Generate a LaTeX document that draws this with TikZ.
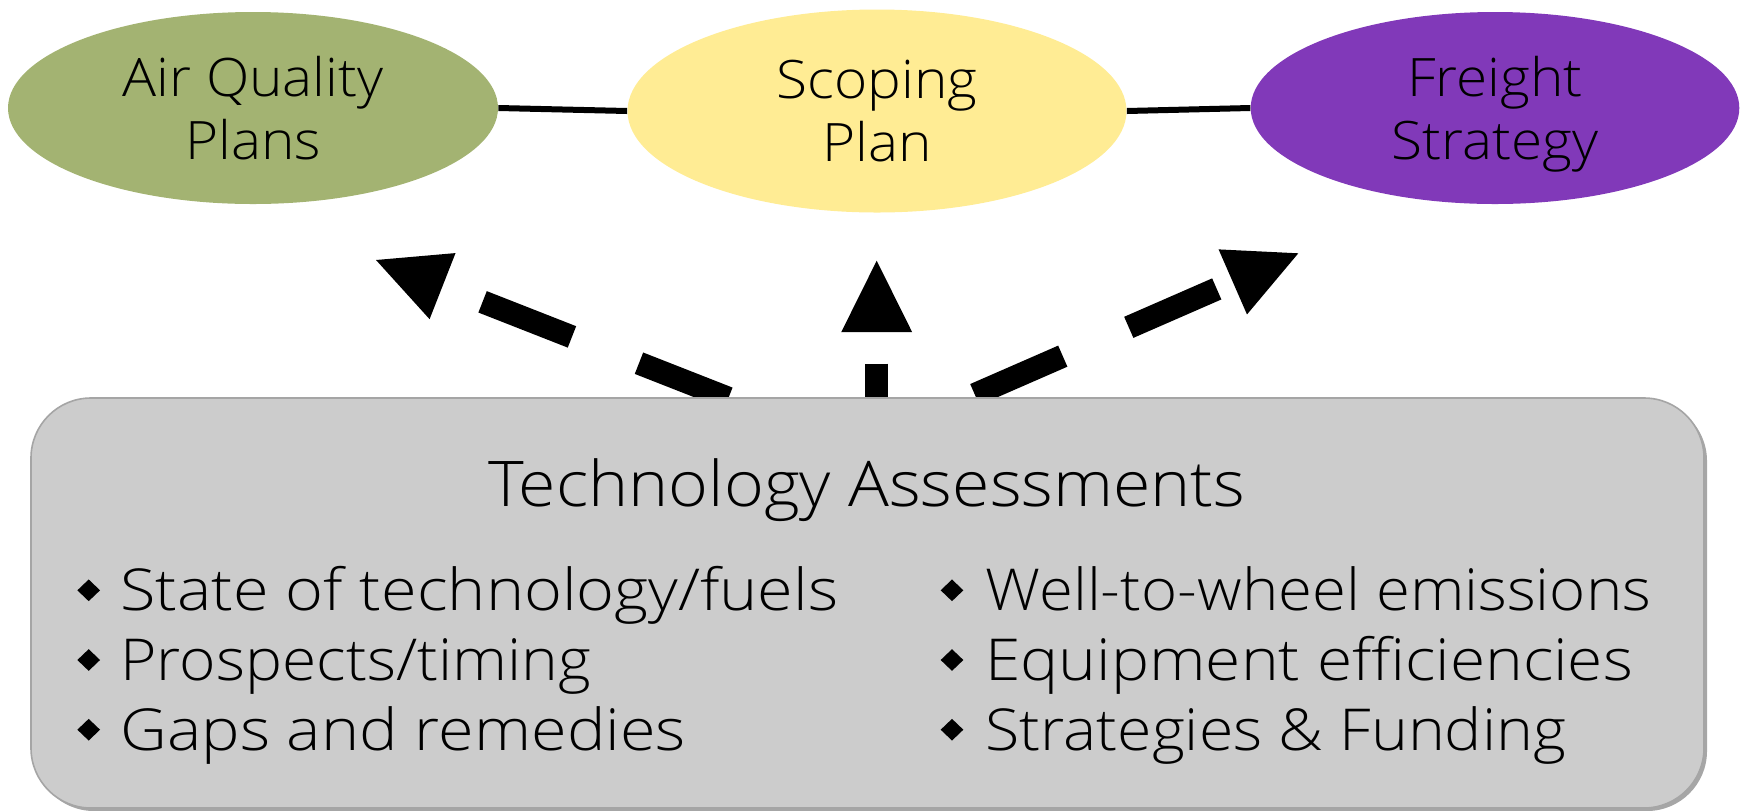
\documentclass[tikz,border=0pt]{standalone}
\usepackage{graphicx}
\usepackage{fontspec}
\setmainfont{Open Sans Light}
\newfontfamily\ellfont{Open Sans Light}[FakeStretch=1.07]
\newfontfamily\titfont{Open Sans Light}[FakeStretch=1.08]
\newfontfamily\itmfont{Open Sans Light}[FakeStretch=1.12]
\usetikzlibrary{shapes.geometric,arrows.meta,shadows}
\definecolor{aqgreen}{RGB}{163,179,114}
\definecolor{spyellow}{RGB}{255,236,148}
\definecolor{frpurple}{RGB}{129,57,185}
\definecolor{boxfill}{RGB}{204,204,204}
\definecolor{boxline}{RGB}{165,165,165}
\begin{document}
\begin{tikzpicture}[x=0.5pt,y=-0.5pt,
  ell/.style={ellipse,inner sep=0pt,align=center,font=\ellfont\fontsize{26.5pt}{31.5pt}\selectfont,text depth=0pt},
  link/.style={line width=3pt,black},
  dasharr/.style={line width=11.5pt,black,dash pattern=on 48pt off 36pt,
    arrows={Triangle[length=35.75pt,width=35.5pt,line width=0pt]-}},
  tabox/.style={rectangle,rounded corners=30pt,fill=boxfill,draw=boxline,line width=0.8pt,
    minimum width=836.5pt,minimum height=205pt,inner sep=0pt,
    drop shadow={shadow xshift=1.5pt,shadow yshift=-1.5pt,fill=black,opacity=0.35}},
  title/.style={anchor=base,font=\titfont\fontsize{31.5pt}{36pt}\selectfont,inner sep=0pt},
  item/.style={anchor=base west,font=\itmfont\fontsize{28.9pt}{34pt}\selectfont,inner sep=0pt},
  bul/.style={diamond,fill=black,inner sep=0pt,minimum width=11.5pt,minimum height=11pt}
]
\useasboundingbox (0,0) rectangle (1744,810);

% ellipses
\node[ell,fill=aqgreen,minimum width=245pt,minimum height=96pt] (aq) at (253,108) {Air Quality\\Plans};
\node[ell,fill=spyellow,minimum width=249.5pt,minimum height=101.5pt] (sp) at (877,111) {Scoping\\Plan};
\node[ell,fill=frpurple,minimum width=244.3pt,minimum height=96pt] (fr) at (1495,108) {Freight\\Strategy};
\draw[link] (aq.east) -- (sp.west);
\draw[link] (sp.east) -- (fr.west);

% arrow coordinates
\coordinate (tipL) at (376,260);
\coordinate (srcL) at (771,415);
\coordinate (tipM) at (876.7,260.7);
\coordinate (srcM) at (876.7,415);
\coordinate (tipR) at (1298.3,253.3);
\coordinate (srcR) at (928,415);
\draw[dasharr,dash phase=62.5pt] (tipL) -- (srcL);
\draw[dasharr,dash phase=68.35pt] (tipM) -- (srcM);
\draw[dasharr,dash phase=75.25pt] (tipR) -- (srcR);

% box
\node[tabox] (ta) at (867.5,603) {};
\node[title] (tatitle) at (866.7,506.7) {Technology Assessments};

\node[bul] (b1) at (88.7,590.3) {};
\node[bul] (b2) at (88.7,660) {};
\node[bul] (b3) at (88.7,729.7) {};
\node[item] (i1) at (120,610.7) {State of technology/fuels};
\node[item] (i2) at (120,680.4) {\scalebox{0.962}[1]{Prospects/timing}};
\node[item] (i3) at (120,750.1) {Gaps and remedies};

\node[bul] (b4) at (952,590.3) {};
\node[bul] (b5) at (952,660) {};
\node[bul] (b6) at (952,729.7) {};
\node[item] (i4) at (985,610.7) {\scalebox{0.953}[1]{Well-to-wheel emissions}};
\node[item] (i5) at (985,680.4) {\scalebox{0.99}[1]{Equipment efficiencies}};
\node[item] (i6) at (985,750.1) {\scalebox{0.967}[1]{Strategies \& Funding}};
\end{tikzpicture}
\end{document}
